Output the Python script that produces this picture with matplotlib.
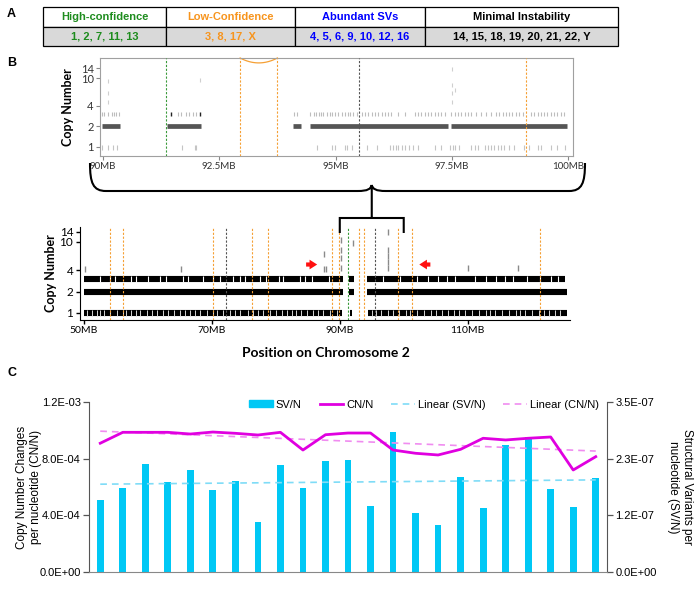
import numpy as np
import matplotlib
matplotlib.use('Agg')
import matplotlib.pyplot as plt
from matplotlib.patches import Rectangle, Patch, PathPatch
from matplotlib.lines import Line2D
from matplotlib.path import Path
from matplotlib.ticker import FormatStrFormatter, NullLocator

W, H = 696, 589

# ---------------- Panel A: chromosome groups
group_names = ['High-confidence', 'Low-Confidence', 'Abundant SVs', 'Minimal Instability']
group_members = ['1, 2, 7, 11, 13', '3, 8, 17, X', '4, 5, 6, 9, 10, 12, 16',
                 '14, 15, 18, 19, 20, 21, 22, Y']
group_colors = ['#1e8c1e', '#f7941d', '#0000ff', '#000000']

# ---------------- Panel B: copy number tracks (positions in MB)
orange_lines = [54.0, 56.1, 70.2, 76.2, 78.8, 88.8, 89.9, 92.95, 93.75, 99.1, 101.3, 121.3]
green_lines = [91.35]
black_lines = [72.2, 95.5]

# zoomed view 90-100 MB
zoom_cn2_segments = [(89.99, 90.37), (91.37, 92.12), (94.08, 94.26), (94.45, 97.42), (97.47, 99.98)]
zoom_cn3_ticks = [89.99, 90.03, 90.11, 90.19, 90.24, 90.29, 90.35,
                  91.61, 91.68, 91.79, 91.86, 91.93, 92.0,
                  94.10, 94.17,
                  94.46, 94.53, 94.58, 94.64, 94.69, 94.74, 94.81, 94.87, 94.92, 94.99,
                  95.06, 95.13, 95.21, 95.26, 95.31, 95.38, 95.46, 95.56, 95.63, 95.70,
                  95.78, 95.85, 95.92, 95.99, 96.06, 96.13, 96.20, 96.35, 96.49, 96.70,
                  96.77, 96.84, 96.92, 96.99, 97.06, 97.13, 97.20, 97.27, 97.34, 97.49,
                  97.56, 97.63, 97.70, 97.77, 97.84, 97.91, 98.02, 98.13, 98.23, 98.34,
                  98.45, 98.52, 98.59, 98.66, 98.73, 98.80, 98.87, 98.95, 99.02, 99.19,
                  99.27, 99.34, 99.41, 99.48, 99.55, 99.62, 99.69, 99.76, 99.84, 99.91]
zoom_cn3_dark = [91.47, 92.08]
zoom_cn1_ticks = [89.99, 90.11, 90.22, 90.31, 91.70, 91.97, 92.0,
                  94.60, 94.92, 94.99, 95.21, 95.24, 95.35, 95.67, 95.88,
                  96.17, 96.24, 96.29, 96.35, 96.42, 96.49, 96.57, 96.67, 96.77,
                  97.13, 97.27, 97.45, 97.52, 97.57, 97.66, 97.91, 98.0, 98.06, 98.20,
                  98.27, 98.34, 98.41, 98.48, 98.55, 98.62, 98.73, 98.84,
                  99.05, 99.16, 99.34, 99.41, 99.62, 99.76, 99.92]
zoom_sparse_mb = [90.11, 90.11, 90.11, 92.08, 97.50, 97.50, 97.50, 97.50, 97.57]
zoom_sparse_cn = [9.0, 6.0, 4.5, 9.5, 13.6, 8.0, 6.0, 4.5, 6.7]

# whole region 50-126 MB
full_cn3_segments = [(50.0, 90.5), (91.5, 92.3), (94.2, 125.2)]
full_cn3_gaps = [52.5, 54.1, 54.8, 57.4, 58.2, 60.0, 61.9, 62.9, 65.5, 66.3, 68.6, 70.2,
                 71.25, 73.3, 74.4, 75.2, 77.5, 78.5, 80.5, 81.1, 83.75, 84.5, 85.6, 88.3,
                 96.7, 99.4, 102.0, 103.8, 105.3, 106.7, 108.0, 111.1, 112.9, 114.5,
                 115.8, 117.1, 119.2, 121.25, 123.1, 124.1]
full_cn2_segments = [(50.0, 90.5), (91.5, 92.3), (94.2, 125.5)]
full_cn1_segments = [(50.0, 90.4), (91.6, 91.9), (94.4, 125.5)]
full_cn1_gaps = [50.5, 51.2, 52.0, 52.5, 53.1, 54.1, 55.2, 56.1, 56.6, 57.4, 58.1, 58.75,
                 59.8, 60.6, 61.4, 62.4, 63.2, 64.0, 65.0, 65.8, 66.6, 67.3, 68.1, 69.2,
                 70.2, 70.8, 71.7, 72.8, 73.6, 74.4, 75.7, 76.5, 77.2, 78.0, 79.1, 80.0,
                 80.9, 81.7, 82.5, 83.2, 84.0, 84.8, 85.8, 86.6, 87.4, 88.4, 89.5,
                 95.05, 95.7, 96.45, 97.5, 98.3, 99.2, 100.3, 101.0, 102.1, 103.1, 104.2,
                 105.0, 106.0, 107.0, 107.8, 108.6, 109.6, 110.7, 111.7, 112.8, 113.5,
                 114.3, 115.4, 116.4, 117.5, 118.2, 119.0, 120.0, 121.1, 121.9, 122.7,
                 123.7, 124.5]
full_sparse_mb = [50.1, 65.2, 87.5, 87.6, 87.9, 90.15, 90.15, 90.15, 90.15, 92.0,
                  97.5, 97.5, 97.5, 97.5, 97.5, 110.0, 117.8]
full_sparse_cn = [4.2, 4.2, 6.7, 4.2, 4.2, 4.3, 6.0, 7.7, 10.7, 9.5,
                  14.0, 7.6, 6.3, 5.2, 4.3, 4.3, 4.3]
arrow_right_mb = (84.3, 86.9)
arrow_left_mb = (104.6, 102.0)
arrow_cn = 4.8

# ---------------- Panel C: rates per chromosome
chrom_labels = ['1', '2', '3', '4', '5', '6', '7', 'X', '8', '9', '11', '10', '12',
                '13', '14', '15', '16', '17', '18', '20', '19', '22', '21']
sv_per_n = np.array([1.48, 1.73, 2.22, 1.85, 2.10, 1.69, 1.87, 1.03, 2.20, 1.73, 2.29, 2.31,
                     1.36, 2.88, 1.22, 0.97, 1.96, 1.32, 2.62, 2.78, 1.71, 1.34, 1.94]) * 1e-7
cn_per_n = np.array([9.09, 9.86, 9.86, 9.86, 9.74, 9.88, 9.79, 9.67, 9.86, 8.61, 9.69, 9.81,
                     9.81, 8.61, 8.38, 8.26, 8.66, 9.44, 9.32, 9.44, 9.53, 7.20, 8.14]) * 1e-4


def box(l, t, r, b):
    # pixel box (top-left origin) -> figure fraction
    return [l / W, 1 - b / H, (r - l) / W, (b - t) / H]


plt.rcParams['font.family'] = ['Liberation Sans', 'DejaVu Sans']
B_FONT = ['Lato', 'DejaVu Sans']
fig = plt.figure(figsize=(W / 100, H / 100), dpi=100)

for letter, y in [('A', 14), ('B', 63), ('C', 373)]:
    fig.text(7 / W, 1 - y / H, letter, fontsize=9, fontweight='bold', va='center', ha='left')

# ---------------- Panel A
axA = fig.add_axes(box(43, 7, 618, 46))
axA.set_xlim(43, 618)
axA.set_ylim(46, 7)
axA.axis('off')
col_edges = [43, 166, 295, 425, 618]
for i in range(4):
    l, r = col_edges[i], col_edges[i + 1]
    axA.add_patch(Rectangle((l, 7), r - l, 19.5, fc='white', ec='black', lw=0.9, clip_on=False))
    axA.add_patch(Rectangle((l, 26.5), r - l, 19.5, fc='#d9d9d9', ec='black', lw=0.9, clip_on=False))
    axA.text((l + r) / 2, 16.8, group_names[i], color=group_colors[i], fontsize=8,
             fontweight='bold', ha='center', va='center')
    axA.text((l + r) / 2, 36.3, group_members[i], color=group_colors[i], fontsize=8,
             fontweight='bold', ha='center', va='center')


def breakpoint_lines(ax):
    for xs, c in [(orange_lines, '#f5a035'), (green_lines, '#3a9a3a'), (black_lines, '#555555')]:
        for xv in xs:
            ax.axvline(xv, color=c, lw=0.8, ls=(0, (2, 1.5)), zorder=4)


# ---------------- Panel B (zoomed 90-100 MB)
axT = fig.add_axes(box(100, 58, 573, 156))
axT.set_yscale('log')
axT.set_xlim(89.94, 100.1)
axT.set_ylim(0.74, 19.6)
for s, e in zoom_cn2_segments:
    axT.hlines(2, s, e, color='#555555', lw=3.4)
axT.plot(zoom_cn3_ticks, [3] * len(zoom_cn3_ticks), '|', color='#bdbdbd', ms=3.4, mew=0.8)
axT.plot(zoom_cn3_dark, [3] * len(zoom_cn3_dark), '|', color='#222222', ms=3.4, mew=1.0)
axT.plot(zoom_cn1_ticks, [1] * len(zoom_cn1_ticks), '|', color='#c4c4c4', ms=3.6, mew=0.8)
axT.plot(zoom_sparse_mb, zoom_sparse_cn, '|', color='#cfcfcf', ms=3.4, mew=0.8)
breakpoint_lines(axT)
# arc marking the orange interval at the top
arc_x = np.linspace(orange_lines[7], orange_lines[8], 40)
arc_t = (arc_x - arc_x.mean()) / (arc_x[-1] - arc_x[0]) * 2
axT.plot(arc_x, 1 - 0.05 * (1 - arc_t ** 2), color='#f5a035', lw=0.9,
         transform=axT.get_xaxis_transform(), clip_on=False)
axT.set_yticks([1, 2, 4, 10, 14])
axT.set_yticklabels(['1', '2', '4', '10', '14'], family=B_FONT, fontsize=8, color='#333333')
axT.yaxis.set_minor_locator(NullLocator())
axT.set_xticks([90, 92.5, 95, 97.5, 100])
axT.set_xticklabels(['90MB', '92.5MB', '95MB', '97.5MB', '100MB'], family=B_FONT,
                    fontsize=7, color='#333333')
axT.tick_params(length=3, width=0.8, color='#888888', pad=1.5)
for sp in axT.spines.values():
    sp.set_color('#a0a0a0')
axT.set_ylabel('Copy Number', family=B_FONT, fontsize=9, fontweight='bold')
axT.yaxis.set_label_coords(-0.055, 0.5)

# ---------------- Panel B (whole region)
axB = fig.add_axes(box(79.5, 227, 570, 320))
axB.set_yscale('log')
axB.set_xlim(49.3, 126.0)
axB.set_ylim(0.795, 16.2)
for segs, cn in [(full_cn3_segments, 3), (full_cn2_segments, 2), (full_cn1_segments, 1)]:
    for s, e in segs:
        axB.hlines(cn, s, e, color='black', lw=4.4)
axB.plot(full_cn3_gaps, [3] * len(full_cn3_gaps), '|', color='white', ms=4.6, mew=0.8)
axB.plot(full_cn1_gaps, [1] * len(full_cn1_gaps), '|', color='#d8d8d8', ms=4.6, mew=0.7)
axB.plot(full_sparse_mb, full_sparse_cn, '|', color='#8a8a8a', ms=4.0, mew=1.0)
breakpoint_lines(axB)
for x0, x1 in [arrow_right_mb, arrow_left_mb]:
    axB.annotate('', xy=(x1, arrow_cn), xytext=(x0, arrow_cn),
                 arrowprops=dict(arrowstyle='simple,head_length=0.55,head_width=0.7,tail_width=0.3',
                                 color='#ff1010', lw=0, mutation_scale=10))
axB.set_yticks([1, 2, 4, 10, 14])
axB.set_yticklabels(['1', '2', '4', '10', '14'], family=B_FONT, fontsize=8.5)
axB.yaxis.set_minor_locator(NullLocator())
axB.set_xticks([50, 70, 90, 110])
axB.set_xticklabels(['50MB', '70MB', '90MB', '110MB'], family=B_FONT, fontsize=7.5)
axB.tick_params(length=3, width=1, pad=1.5)
axB.spines[['top', 'right']].set_visible(False)
axB.set_ylabel('Copy Number', family=B_FONT, fontsize=9, fontweight='bold')
axB.yaxis.set_label_coords(-0.046, 0.5)
fig.text(326 / W, 1 - 353 / H, 'Position on Chromosome 2', family=B_FONT, fontsize=10,
         fontweight='bold', ha='center', va='center')

# brace linking the zoomed window to 90-100 MB
ov = fig.add_axes([0, 0, 1, 1], zorder=10)
ov.set_xlim(0, W)
ov.set_ylim(H, 0)
ov.axis('off')
bl = axB.transData.transform((90, 1))[0]
br = axB.transData.transform((100, 1))[0]
xc = (bl + br) / 2
xl, xr = 90, 585
yt, ym, yp = 163, 191, 185
verts = [(xl, yt), (xl, 183), (xl + 3, ym), (xl + 16, ym), (xc - 14, ym),
         (xc - 4, ym), (xc - 1, 189), (xc, yp),
         (xc, yp), (xc + 1, 189), (xc + 4, ym), (xc + 14, ym), (xr - 16, ym),
         (xr - 3, ym), (xr, 183), (xr, yt),
         (xc, yp), (xc, 218),
         (bl, 233), (bl, 218), (br, 218), (br, 233)]
codes = ([Path.MOVETO] + [Path.CURVE4] * 3 + [Path.LINETO] + [Path.CURVE4] * 3 +
         [Path.MOVETO] + [Path.CURVE4] * 3 + [Path.LINETO] + [Path.CURVE4] * 3 +
         [Path.MOVETO, Path.LINETO] +
         [Path.MOVETO, Path.LINETO, Path.LINETO, Path.LINETO])
ov.add_patch(PathPatch(Path(verts, codes), fc='none', ec='black', lw=1.5))

# ---------------- Panel C
axC = fig.add_axes(box(89, 402, 607, 572))
axR = axC.twinx()
axC.set_zorder(axR.get_zorder() + 1)
axC.patch.set_visible(False)
x = np.arange(len(chrom_labels))

axR.bar(x, sv_per_n, width=0.3, color='#00c8f5', zorder=2)
sv_fit = np.polyval(np.polyfit(x, sv_per_n, 1), x)
axR.plot(x, sv_fit, color='#7fdcf7', lw=1.2, ls=(0, (4, 3)), zorder=3)
axC.plot(x, cn_per_n, color='#e000e0', lw=2, zorder=4)
cn_fit = np.polyval(np.polyfit(x, cn_per_n, 1), x)
axC.plot(x, cn_fit, color='#f08cf0', lw=1.2, ls=(0, (4, 3)), zorder=3)

axC.set_xlim(-0.5, len(x) - 0.5)
axC.set_ylim(0, 1.2e-3)
axC.set_yticks([0, 4e-4, 8e-4, 1.2e-3])
axC.yaxis.set_major_formatter(FormatStrFormatter('%.1E'))
axR.set_ylim(0, 3.5e-7)
axR.set_yticks([0, 3.5e-7 / 3, 7e-7 / 3, 3.5e-7])
axR.yaxis.set_major_formatter(FormatStrFormatter('%.1E'))
axC.tick_params(axis='y', labelsize=8, length=4, width=0.9, color='#555555', pad=2)
axR.tick_params(axis='y', labelsize=8, length=4, width=0.9, color='#555555', pad=2)
axC.set_xticks(x)
axC.set_xticklabels(chrom_labels, fontsize=8.5, fontweight='bold')
axC.tick_params(axis='x', length=0, pad=4)
member_color = {}
for members, c in zip(group_members, group_colors):
    for m in members.split(', '):
        member_color[m] = c
for lab in axC.get_xticklabels():
    lab.set_color(member_color[lab.get_text()])
axR.set_xticks([])
axC.spines[['top', 'right']].set_visible(False)
axR.spines[['top', 'left', 'bottom']].set_visible(False)
for sp in [axC.spines['left'], axR.spines['right']]:
    sp.set_color('#555555')
axC.spines['bottom'].set_color('#888888')

handles = [Patch(color='#00c8f5'),
           Line2D([], [], color='#e000e0', lw=2),
           Line2D([], [], color='#7fdcf7', lw=1.2, ls=(0, (4, 3))),
           Line2D([], [], color='#f08cf0', lw=1.2, ls=(0, (4, 3)))]
axC.legend(handles, ['SV/N', 'CN/N', 'Linear (SV/N)', 'Linear (CN/N)'], ncol=4,
           loc='center', bbox_to_anchor=(0.647, 0.985), frameon=False, fontsize=8,
           handlelength=2.1, handleheight=0.6, handletextpad=0.3, columnspacing=1.6)

fig.text(29 / W, 1 - 487 / H, 'Copy Number Changes\nper nucleotide (CN/N)', rotation=90,
         fontsize=8.5, ha='center', va='center', multialignment='center')
fig.text(680 / W, 1 - 487 / H, 'Structural Variants per\nnucleotide (SV/N)', rotation=-90,
         fontsize=8.5, ha='center', va='center', multialignment='center')

fig.savefig('out.png', dpi=100)
